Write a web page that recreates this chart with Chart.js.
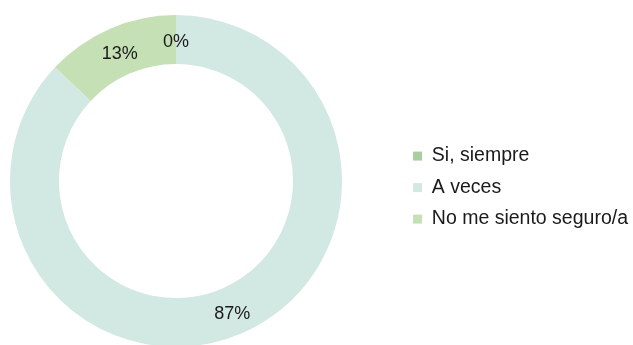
<!DOCTYPE html>
<html>
<head>
<meta charset="utf-8">
<script src="https://cdn.jsdelivr.net/npm/chart.js@4"></script>
<style>
  html, body { margin: 0; padding: 0; background: #fff; overflow: hidden; }
  #wrap { position: relative; width: 633px; height: 362px; }
</style>
</head>
<body>
<div id="wrap"><canvas id="chart"></canvas></div>
<script>
const categories = ['Si, siempre', 'A veces', 'No me siento seguro/a'];
const values = [0, 87, 13];
const colors = ['#a9cfa0', '#d2e8e2', '#c5e0b4'];

// prints the percentage at the middle of each ring segment
const sliceLabels = {
    id: 'sliceLabels',
    afterDatasetsDraw(chart) {
        const ctx = chart.ctx;
        const meta = chart.getDatasetMeta(0);
        ctx.save();
        ctx.font = '18px "Liberation Sans", Arial, sans-serif';
        ctx.fillStyle = '#1a1a1a';
        ctx.textAlign = 'center';
        ctx.textBaseline = 'middle';
        meta.data.forEach((arc, i) => {
            const pos = arc.tooltipPosition();
            ctx.fillText(values[i] + '%', pos.x, pos.y + 3);
        });
        ctx.restore();
    }
};

// ring sits left of the middle of the free area, legend hugs the right edge
const placement = {
    id: 'placement',
    afterInit(chart) {
        const legend = chart.legend;
        const fit = legend.fit.bind(legend);
        legend.fit = function () { fit(); this.width -= 5; };
    },
    afterLayout(chart) {
        const a = chart.chartArea;
        a.left = 2 * 176 - a.right;
        a.width = a.right - a.left;
    }
};

new Chart(document.getElementById('chart'), {
    type: 'doughnut',
    data: {
        labels: categories,
        datasets: [{
            data: values,
            backgroundColor: colors,
            borderWidth: 0
        }]
    },
    options: {
        responsive: true,
        maintainAspectRatio: false,
        animation: false,
        radius: 166,
        cutout: '70.5%',
        layout: { padding: 0 },
        plugins: {
            tooltip: { enabled: false },
            legend: {
                position: 'right',
                title: { display: true, text: ' ', font: { size: 1 }, padding: 6 },
                labels: {
                    boxWidth: 9,
                    boxHeight: 9,
                    padding: 12,
                    color: '#1a1a1a',
                    font: { family: '"Liberation Sans", Arial, sans-serif', size: 19.5 }
                }
            }
        }
    },
    plugins: [sliceLabels, placement]
});
</script>
</body>
</html>
